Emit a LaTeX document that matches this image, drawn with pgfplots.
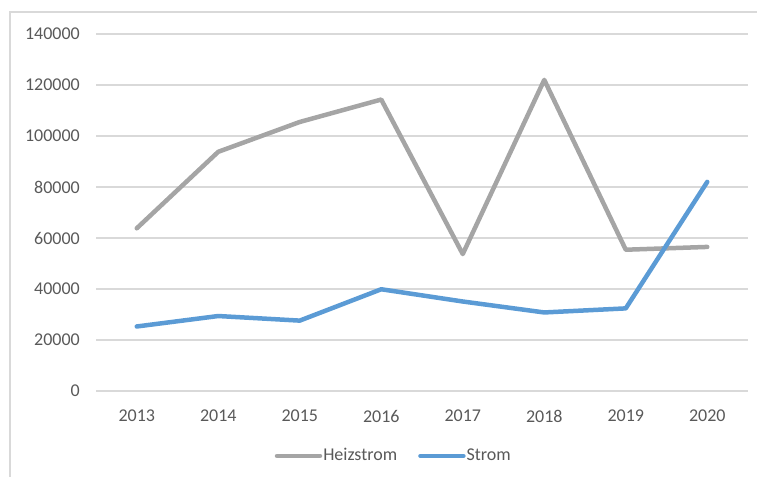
\documentclass[border=0pt]{standalone}
\usepackage{fontspec}
\setmainfont{Carlito}
\usepackage{pgfplots}
\pgfplotsset{compat=1.18}
\definecolor{hgray}{HTML}{A5A5A5}
\definecolor{sblue}{HTML}{5B9BD5}
\definecolor{gridc}{HTML}{D9D9D9}
\definecolor{txt}{HTML}{595959}
\begin{document}
\fontsize{18bp}{21bp}\selectfont
\begin{tikzpicture}
\useasboundingbox (0,0) rectangle (757bp,477bp);
\begin{scope}
\clip (0,0) rectangle (757bp,477bp);
\draw[gridc, line width=1.5bp] (10bp,-10bp) -- (10bp,465bp) -- (780bp,465bp);
\end{scope}
\begin{axis}[
  at={(96bp,86bp)}, anchor=south west,
  scale only axis, width=652bp, height=357bp,
  xmin=-0.5, xmax=7.5, ymin=0, ymax=140000,
  xtick={0,1,2,3,4,5,6,7},
  xticklabels={2013,2014,2015,2016,2017,2018,2019,2020},
  ytick={0,20000,40000,60000,80000,100000,120000,140000},
  scaled y ticks=false,
  /pgf/number format/fixed,
  /pgf/number format/precision=0,
  /pgf/number format/1000 sep={},
  /pgf/number format/assume math mode=true,
  axis line style={draw=none},
  major tick length=0pt,
  ymajorgrids,
  major grid style={gridc, line width=1.5bp},
  tick label style={text=txt, font=\fontsize{18bp}{21bp}\selectfont, inner sep=0pt},
  yticklabel style={anchor=east, xshift=-16bp},
  xticklabel style={anchor=north, yshift=-19bp},
  legend style={at={(0.456,-0.182)}, anchor=center, draw=none, fill=none,
    legend columns=2, font=\fontsize{18bp}{21bp}\selectfont, text=txt,
    nodes={inner sep=1bp},
    /tikz/every even column/.append style={column sep=20bp}},
  legend image code/.code={\draw[#1] (0bp,0bp) -- (43bp,0bp);},
]
\addplot[hgray, line width=4.5bp, line cap=round, line join=round]
  coordinates {(0,63800)(1,93800)(2,105500)(3,114300)(4,53700)(5,122000)(6,55400)(7,56500)};
\addplot[sblue, line width=4.5bp, line cap=round, line join=round]
  coordinates {(0,25300)(1,29400)(2,27600)(3,39900)(4,35100)(5,30800)(6,32400)(7,82000)};
\legend{Heizstrom, Strom}
\end{axis}
\end{tikzpicture}
\end{document}
